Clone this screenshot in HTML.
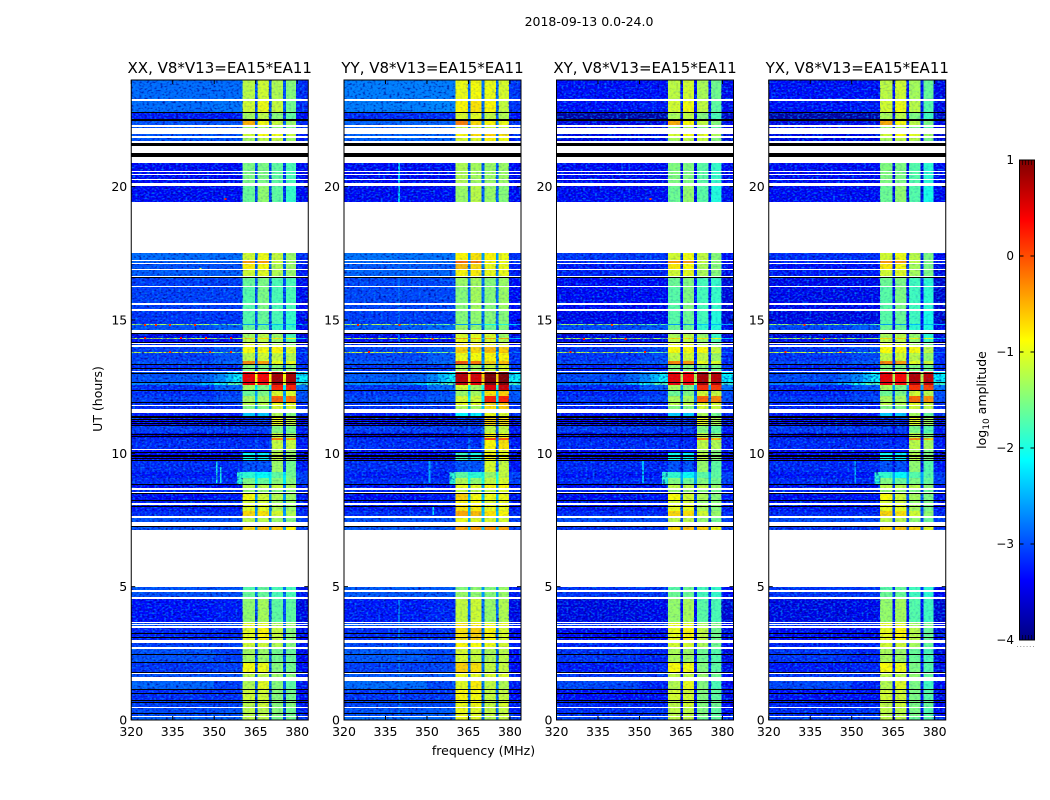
<!DOCTYPE html>
<html>
<head>
<meta charset="utf-8">
<title>2018-09-13 0.0-24.0 spectrogram</title>
<style>
html,body{margin:0;padding:0;background:#fff;width:1050px;height:800px;overflow:hidden}
svg{display:block}
text{font-family:"DejaVu Sans","Liberation Sans",sans-serif;fill:#000}
</style>
</head>
<body>
<svg id="figure" xmlns="http://www.w3.org/2000/svg" width="1050" height="800" viewBox="0 0 1050 800">
<defs>
<filter id="grain-dark" x="0" y="0" width="100%" height="100%" color-interpolation-filters="sRGB">
<feTurbulence type="fractalNoise" baseFrequency="0.38 0.5" numOctaves="1" seed="4"/>
<feColorMatrix type="matrix" values="0 0 0 0 0  0 0 0 0 0  0 0 0 0 0.55  2.6 0 0 0 -1.25"/>
</filter>
<filter id="grain-bright" x="0" y="0" width="100%" height="100%" color-interpolation-filters="sRGB">
<feTurbulence type="fractalNoise" baseFrequency="0.42 0.55" numOctaves="1" seed="11"/>
<feColorMatrix type="matrix" values="0 0 0 0 0  0 0 0 0 0.55  0 0 0 0 1  2.6 0 0 0 -1.22"/>
</filter>
<linearGradient id="jet-gradient" x1="0" y1="1" x2="0" y2="0"></linearGradient>
</defs>
<text x="589" y="26" font-size="12.5" text-anchor="middle">2018-09-13 0.0-24.0</text>
<text x="483.5" y="755" font-size="12.5" text-anchor="middle">frequency (MHz)</text>
<text transform="translate(102,399) rotate(-90)" font-size="12.5" text-anchor="middle">UT (hours)</text>
<text transform="translate(986,400) rotate(-90)" font-size="12.5" text-anchor="middle">log<tspan font-size="9" dy="3">10</tspan><tspan dy="-3"> amplitude</tspan></text>
<g id="panels"></g>
<g id="colorbar"></g>
</svg>
<script>
// ---- chart data ----
const panelTitles = ["XX, V8*V13=EA15*EA11", "YY, V8*V13=EA15*EA11", "XY, V8*V13=EA15*EA11", "YX, V8*V13=EA15*EA11"];
const xTickLabels = [320, 335, 350, 365, 380];
const yTickLabels = [0, 5, 10, 15, 20];
const colorbarTicks = [-4, -3, -2, -1, 0, 1];
// column edges in MHz: background, near-band, ch1, notch, ch2, notch, ch3, notch, ch4, tail
const freqEdges = [320, 350, 360.3, 364.8, 365.7, 369.8, 370.8, 374.9, 375.9, 379.6, 384];
// time bands (hours, top then bottom)
const bandTimes = [
[24,23.306],[23.231,22.8],[22.8,22.5],[22.5,22.294],[22.256,22.211],[21.975,21.9],[21.836,21.713],
[20.876,20.588],[20.55,20.464],[20.426,20.299],[20.25,20.149],[20.025,19.436],
[17.513,17.25],[17.201,17.149],[17.111,16.901],[16.864,16.661],[16.601,16.275],[16.238,15.638],[15.563,15.413],[15.349,14.85],
[14.85,14.813],[14.813,14.625],[14.501,14.336],[14.336,14.299],[14.299,14.149],[14.111,14.051],[14.0,13.811],[13.811,13.774],
[13.774,13.4625],[13.4625,13.301],[13.301,13.099],
[13.05,12.69],[12.69,12.5625],[12.5625,12.34],[12.34,12.15],[12.15,11.89],[11.89,11.81],[11.775,11.65],
[11.524,11.4],[11.4,11.04],[11.04,10.76],[10.76,10.58],[10.58,10.5],[10.5,10.16],[10.125,10.01],[10.01,9.75],[9.75,9.3],
[9.3,9.075],[9.075,8.794],[8.794,8.7],[8.625,8.55],[8.51,8.25],[8.25,8.119],[8.081,7.838],[7.838,7.65],[7.564,7.414],[7.256,7.125],
[4.976,4.875],[4.8,4.624],[4.549,3.675],[3.638,3.6],[3.563,3.525],[3.461,3.0],[2.899,2.726],[2.674,2.175],[2.175,1.774],
[1.736,1.613],[1.463,1.163],[1.163,0.75],[0.75,0.499],[0.461,0.15],[0.101,0]
];
// log10 amplitude per band: background, near-band, notch, ch1, ch2, ch3, ch4, tail
const bandLevels = [
[-2.85,-2.85,-3.0,-1.3,-1.2,-1.3,-1.5,-3.2],[-2.85,-2.8,-3.0,-1.2,-1.05,-1.2,-1.6,-3.2],[-3.3,-3.3,-3.1,-1.4,-1.3,-1.5,-1.7,-3.4],[-3.0,-3.0,-2.9,-0.6,-1.0,-1.2,-1.4,-3.2],[-3.0,-3.0,-3.0,-1.5,-1.4,-1.5,-1.6,-3.2],[-3.0,-3.0,-3.0,-1.2,-1.0,-1.0,-1.2,-3.3],[-3.0,-3.0,-3.0,-1.4,-1.3,-1.2,-1.4,-3.3],
[-3.4,-3.4,-3.1,-1.6,-1.6,-1.7,-1.8,-3.4],[-3.4,-3.4,-3.1,-1.6,-1.6,-1.7,-1.8,-3.4],[-3.4,-3.4,-3.1,-1.6,-1.6,-1.7,-1.8,-3.4],[-3.4,-3.4,-3.1,-1.6,-1.6,-1.7,-1.8,-3.4],[-3.4,-3.4,-3.1,-1.7,-1.5,-1.7,-1.9,-3.4],
[-2.85,-2.85,-2.8,-1.2,-1.05,-1.2,-1.4,-3.2],[-2.9,-2.9,-2.9,-0.5,-0.5,-1.2,-1.4,-3.2],[-3.0,-3.0,-2.9,-0.9,-1.0,-1.3,-1.4,-3.3],[-2.95,-2.95,-2.9,-1.2,-1.1,-1.3,-1.4,-3.3],[-3.1,-3.1,-3.0,-1.7,-1.6,-1.8,-1.8,-3.4],[-3.1,-3.1,-3.0,-1.8,-1.6,-1.8,-1.8,-3.4],[-3.1,-3.1,-3.0,-1.8,-1.6,-1.8,-1.8,-3.4],[-3.15,-3.15,-3.0,-1.8,-1.7,-1.8,-1.9,-3.4],
[-1.3,-1.6,-2.7,-2.6,-2.6,-2.4,-2.4,-2.4],[-3.0,-2.9,-3.0,-1.7,-1.7,-1.9,-1.9,-3.4],[-3.5,-3.5,-3.1,-1.4,-1.3,-1.4,-1.8,-3.5],[-1.2,-1.3,-2.5,-0.8,-0.8,-0.8,-0.9,-2.4],[-3.4,-3.4,-3.0,-1.3,-1.3,-1.4,-1.7,-3.4],[-3.2,-3.2,-2.9,-1.1,-1.1,-1.3,-1.5,-3.4],[-3.1,-3.0,-2.9,-1.0,-1.0,-0.9,-1.1,-3.2],[-1.1,-1.5,-2.4,-1.0,-1.0,-0.9,-1.0,-2.8],
[-3.1,-3.0,-2.9,-1.3,-1.2,-1.2,-1.3,-3.2],[-3.0,-2.9,-2.8,-0.4,-0.5,-1.0,-1.0,-3.2],[-3.2,-3.2,-2.9,-1.6,-1.6,-1.5,-1.5,-3.2],
[-3.0,-3.0,-0.9,0.35,0.25,0.75,0.75,-2.1],[-2.7,-2.7,-1.0,0.3,0.2,0.75,0.75,-1.8],[-3.2,-2.9,-2.2,-1.4,-1.6,0.15,0.15,-2.8],[-3.2,-3.1,-2.6,-1.7,-1.6,-1.1,-1.1,-3.0],[-3.1,-3.0,-2.4,-1.4,-1.4,-0.15,-0.25,-3.0],[-3.2,-3.2,-2.6,-1.3,-1.3,-1.0,-1.0,-3.2],[-3.2,-3.2,-2.6,-1.6,-1.6,-1.1,-1.1,-3.2],
[-3.3,-3.3,-3.1,-2.5,-2.5,-1.3,-1.5,-3.2],[-3.4,-3.4,-3.3,-3.2,-3.2,-1.0,-1.2,-3.4],[-3.1,-3.1,-3.1,-3.1,-3.1,-1.5,-1.6,-3.3],[-3.5,-3.5,-3.3,-3.3,-3.3,-1.2,-1.4,-3.5],[-3.2,-3.2,-3.1,-3.2,-3.2,-0.3,-0.5,-3.3],[-3.2,-3.2,-3.0,-3.2,-3.2,-1.2,-1.2,-3.3],[-3.4,-3.4,-3.2,-3.3,-3.3,-1.3,-1.4,-3.4],[-3.4,-3.4,-3.0,-2.2,-2.3,-1.2,-1.4,-3.4],[-3.2,-3.2,-3.1,-3.0,-3.0,-1.4,-1.6,-3.3],
[-3.3,-3.3,-2.2,-2.0,-2.2,-1.7,-1.6,-3.1],[-3.2,-3.2,-2.2,-1.6,-1.7,-1.5,-1.5,-3.1],[-3.4,-3.4,-2.8,-1.3,-1.3,-1.2,-1.3,-3.3],[-3.2,-3.2,-2.8,-1.5,-1.5,-1.5,-1.5,-3.2],[-3.4,-3.3,-2.6,-1.0,-1.2,-1.3,-1.4,-3.3],[-3.3,-3.2,-2.7,-1.2,-1.2,-1.4,-1.4,-3.3],[-3.3,-3.3,-2.7,-1.1,-1.1,-1.3,-1.4,-3.3],[-3.2,-3.2,-2.6,-0.8,-0.85,-1.1,-1.3,-3.2],[-3.0,-3.0,-2.7,-1.3,-1.3,-1.4,-1.5,-3.1],[-3.0,-3.0,-2.6,-0.8,-0.7,-0.7,-0.9,-3.1],
[-3.0,-3.0,-2.8,-1.8,-1.7,-1.8,-1.8,-3.3],[-3.0,-3.0,-2.8,-1.7,-1.7,-1.8,-1.8,-3.3],[-3.35,-3.3,-3.0,-1.5,-1.4,-1.7,-1.7,-3.5],[-3.0,-3.0,-2.9,-1.1,-1.1,-1.3,-1.4,-3.3],[-3.0,-3.0,-2.9,-1.1,-1.1,-1.3,-1.4,-3.3],[-3.25,-3.25,-3.0,-1.1,-0.95,-1.2,-1.5,-3.4],[-3.1,-3.1,-2.9,-1.2,-1.2,-1.3,-1.5,-3.3],[-3.0,-3.1,-3.0,-1.4,-1.45,-1.6,-1.65,-3.4],[-3.15,-3.1,-3.0,-1.0,-1.05,-1.5,-1.6,-3.4],
[-3.0,-3.0,-2.9,-1.3,-1.3,-1.4,-1.5,-3.3],[-2.9,-3.1,-2.9,-1.35,-1.1,-1.5,-1.7,-3.3],[-3.2,-3.2,-3.0,-1.2,-1.2,-1.5,-1.6,-3.4],[-3.1,-3.1,-3.0,-1.3,-1.2,-1.5,-1.5,-3.3],[-3.05,-3.0,-3.0,-1.3,-1.3,-1.5,-1.6,-3.3],[-2.9,-2.9,-3.0,-1.3,-1.3,-1.6,-1.6,-3.1]
];
// flagged (black) integrations, hours top then bottom
const flaggedTimes = [
[22.8,22.744],[22.519,22.481],[21.638,21.525],[21.251,21.124],[16.601,16.564],[14.501,14.464],[14.186,14.149],[13.35,13.301],[13.211,13.151],[13.013,12.975],[12.675,12.638],[12.375,12.338],[11.925,11.888],
[11.411,11.374],[11.351,11.314],[11.276,11.239],[11.213,11.175],[11.126,11.089],[11.063,11.025],[10.725,10.688],[10.639,10.601],[10.05,10.013],[9.949,9.911],[9.9,9.863],[9.825,9.788],[9.75,9.713],
[8.85,8.794],[8.513,8.475],[8.25,8.213],[8.025,7.988],[7.286,7.256],[3.263,3.225],[3.113,3.075],[2.475,2.438],[2.175,2.138],[1.811,1.774],[1.163,1.125],[1.024,0.986],[0.75,0.713],[0.664,0.626],[0.251,0.214]
];
// per-polarisation adjustments
const zoneEdges = [0, 7.2, 11.5, 15, 18, 21, 24];
const bgOffsetXX = [0, 0, 0, 0, 0, 0];
const bgOffsetYY = [0.05, 0, 0.05, 0.05, 0, 0.1];
const bgOffsetXY = [-0.15, -0.02, -0.05, -0.3, 0, -0.5];
const bgOffsetYX = [-0.15, -0.02, -0.05, -0.35, 0, -0.5];
const chanOffsetXX = [0.1, 0.1, 0.05, 0.05];
const chanOffsetYY = [0.35, 0.3, 0.35, 0.45];
const chanOffsetXY = [0.12, 0.12, 0.03, -0.05];
const chanOffsetYX = [0.12, 0.1, 0, -0.1];
const notchOffsets = [0, 0.2, -0.35, -0.35];
// narrow interference and ramps: panel (-1 = all), freq start, freq end, hour top, hour bottom, level
const spikes = [
[1,339.6,340.3,20.88,19.43,-2.3],[1,339.6,340.3,17.5,14.0,-2.9],[1,339.6,340.3,4.5,0.2,-2.8],
[0,350.6,351.2,9.75,8.9,-2.0],[0,352.0,352.6,9.5,8.9,-2.0],[1,350.6,351.2,9.75,8.9,-2.5],[1,352.0,352.6,8.0,7.7,-2.1],
[2,351.0,351.6,9.7,8.9,-2.4],[3,351.0,351.6,9.7,8.9,-2.4],
[-1,345,350,13.05,12.69,-2.9],[-1,350,354,13.05,12.69,-2.7],[-1,354,357,13.05,12.69,-2.4],[-1,357,360.3,13.05,12.69,-2.1],
[-1,345,350,12.69,12.5625,-2.4],[-1,350,355,12.69,12.5625,-2.0],[-1,355,360.3,12.69,12.5625,-1.7],
[-1,358.2,360.3,9.3,8.794,-1.9]
];
// single hot pixels: panel, freq, hour, level
const hotPoints = [
[0,354,19.55,0.3],[0,325,14.83,0.2],[0,329,14.83,0.2],[0,334,14.83,0.2],[0,343,14.83,0.2],
[0,325,14.32,0.3],[0,338,14.32,0.3],[0,347,14.32,0.3],[0,356,14.32,0.3],[0,334,13.79,0.2],[0,348.5,13.79,0.2],[0,356,13.79,0.2],
[0,345,16.9,-1.0],[1,325,14.83,0.3],[1,340,14.83,0.2],[1,329,13.8,0.3],[1,352,14.3,0.1],
[2,354,19.55,0.1],[2,340,14.83,0.1],[2,330,14.3,0.3],[2,345,14.3,0.3],[2,325,13.8,0.4],[2,352,13.8,0.3],
[3,333,14.83,0.2],[3,340,14.3,0.2],[3,326,13.8,0.3],[3,346,13.8,0.2]
];

// ---- layout ----
const NS = "http://www.w3.org/2000/svg";
const panelLefts = [131.25, 344, 556.5, 768.75];
const panelWidth = 177;
const plotTop = 80;
const plotBottom = 720;
const bgOffsets = [bgOffsetXX, bgOffsetYY, bgOffsetXY, bgOffsetYX];
const chanOffsets = [chanOffsetXX, chanOffsetYY, chanOffsetXY, chanOffsetYX];

function xScale(left, f) { return left + (f - 320) * panelWidth / 64; }
function yScale(h) { return plotBottom - h * (plotBottom - plotTop) / 24; }
function yPixel(h) { return Math.round(yScale(h)); }
function jet(v) {
  const t = Math.max(0, Math.min(1, (v + 4) / 5));
  const c = function (k) { return Math.round(255 * Math.max(0, Math.min(1, 1.5 - Math.abs(4 * t - k)))); };
  return "rgb(" + c(3) + "," + c(2) + "," + c(1) + ")";
}
function zoneIndex(h) {
  let z = 0;
  for (let i = 0; i < zoneEdges.length - 1; i++) { if (h >= zoneEdges[i]) z = i; }
  return z;
}
function make(parent, tag) {
  const el = document.createElementNS(NS, tag);
  parent.appendChild(el);
  return el;
}
function channelLevel(level, offset) { return level > -2.6 ? level + offset : level; }
function cellLevel(levels, col, p, zone) {
  // levels: bg, near, notch, ch1..ch4, tail
  if (col === 0) return levels[0] + bgOffsets[p][zone];
  if (col === 1) return levels[1] + bgOffsets[p][zone];
  if (col === 2) return channelLevel(levels[3], chanOffsets[p][0]);
  if (col === 3 || col === 5 || col === 7) return levels[2] + notchOffsets[p];
  if (col === 4) return channelLevel(levels[4], chanOffsets[p][1]);
  if (col === 6) return channelLevel(levels[5], chanOffsets[p][2]);
  if (col === 8) return channelLevel(levels[6], chanOffsets[p][3]);
  return levels[7] + bgOffsets[p][zone] * 0.5;
}
function addNoise(parent, x, w, y, h, opacity) {
  ["grain-dark", "grain-bright"].forEach(function (filterId) {
    const n = make(parent, "rect");
    
    
    n.setAttribute("x", x);
    n.setAttribute("width", w);
    n.setAttribute("y", y);
    n.setAttribute("height", h);
    n.setAttribute("opacity", opacity);
    n.setAttribute("filter", "url(#" + filterId + ")");
  });
}

const panelsRoot = document.getElementById("panels");
panelTitles.forEach(function (title, p) {
  const left = panelLefts[p];
  const g = make(panelsRoot, "g");
  
  

  const quietCells = [];
  bandTimes.forEach(function (t, r) {
    const zone = zoneIndex((t[0] + t[1]) / 2);
    for (let c = 0; c < freqEdges.length - 1; c++) {
      const x = xScale(left, freqEdges[c]);
      const w = xScale(left, freqEdges[c + 1]) - x;
      const y = yPixel(t[0]);
      const h = Math.max(1, yPixel(t[1]) - y);
      const level = cellLevel(bandLevels[r], c, p, zone);
      const cell = make(g, "rect");
      
      
      cell.setAttribute("x", x);
      cell.setAttribute("width", w);
      cell.setAttribute("y", y);
      cell.setAttribute("height", h);
      cell.setAttribute("fill", jet(level));
      cell.setAttribute("shape-rendering", "crispEdges");
      if (c >= 2 && c <= 8 && level < -2.6 && h >= 4) quietCells.push([x, w, y, h]);
    }
  });

  spikes.filter(function (s) { return s[0] === p || s[0] === -1; }).forEach(function (s) {
    bandTimes.forEach(function (t) {
      const top = Math.min(t[0], s[3]);
      const bottom = Math.max(t[1], s[4]);
      if (top <= bottom) return;
      const sp = make(g, "rect");
      
      
      sp.setAttribute("x", xScale(left, s[1]));
      sp.setAttribute("width", xScale(left, s[2]) - xScale(left, s[1]));
      sp.setAttribute("y", yPixel(top));
      sp.setAttribute("height", Math.max(1, yPixel(bottom) - yPixel(top)));
      sp.setAttribute("fill", jet(s[5]));
      sp.setAttribute("shape-rendering", "crispEdges");
    });
  });

  // receiver noise texture laid over the cells
  [[320, 360.3, 1], [360.3, 379.6, 0.2], [379.6, 384, 1]].forEach(function (region) {
    addNoise(g, xScale(left, region[0]), xScale(left, region[1]) - xScale(left, region[0]), plotTop, plotBottom - plotTop, region[2]);
  });
  quietCells.forEach(function (q) { addNoise(g, q[0], q[1], q[2], q[3], 0.9); });

  hotPoints.filter(function (s) { return s[0] === p; }).forEach(function (s) {
    const hp = make(g, "rect");
    
    
    hp.setAttribute("x", xScale(left, s[1]) - 1);
    hp.setAttribute("width", 2);
    hp.setAttribute("y", yPixel(s[2]) - 1);
    hp.setAttribute("height", 2);
    hp.setAttribute("fill", jet(s[3]));
    hp.setAttribute("shape-rendering", "crispEdges");
  });

  // times with no data stay blank
  bandTimes.forEach(function (t, r) {
    const nextTop = r + 1 < bandTimes.length ? bandTimes[r + 1][0] : t[1];
    if (t[1] - nextTop <= 0) return;
    const gap = make(g, "rect");
    
    
    gap.setAttribute("x", left);
    gap.setAttribute("width", panelWidth);
    gap.setAttribute("y", yPixel(t[1]));
    gap.setAttribute("height", Math.max(1, yPixel(nextTop) - yPixel(t[1])));
    gap.setAttribute("fill", "#fff");
    gap.setAttribute("shape-rendering", "crispEdges");
  });

  flaggedTimes.forEach(function (t) {
    const fl = make(g, "rect");
    
    
    fl.setAttribute("x", left);
    fl.setAttribute("width", panelWidth);
    fl.setAttribute("y", yPixel(t[0]));
    fl.setAttribute("height", Math.max(1, yPixel(t[1]) - yPixel(t[0])));
    fl.setAttribute("fill", "#000");
    fl.setAttribute("shape-rendering", "crispEdges");
  });

  const frame = make(g, "rect");
  
  
  frame.setAttribute("x", left);
  frame.setAttribute("y", plotTop);
  frame.setAttribute("width", panelWidth);
  frame.setAttribute("height", plotBottom - plotTop);
  frame.setAttribute("fill", "none");
  frame.setAttribute("stroke", "#000");
  frame.setAttribute("stroke-width", "1");

  const titleEl = make(g, "text");
  
  
  titleEl.setAttribute("x", left + panelWidth / 2);
  titleEl.setAttribute("y", 73);
  titleEl.setAttribute("font-size", "15");
  titleEl.setAttribute("text-anchor", "middle");
  titleEl.textContent = title;

  xTickLabels.forEach(function (f) {
    const x = xScale(left, f);
    [[plotBottom, plotBottom - 4], [plotTop, plotTop + 4]].forEach(function (e) {
      const tick = make(g, "line");
      
      
      tick.setAttribute("x1", x);
      tick.setAttribute("x2", x);
      tick.setAttribute("y1", e[0]);
      tick.setAttribute("y2", e[1]);
      tick.setAttribute("stroke", "#000");
    });
    const lab = make(g, "text");
    
    
    lab.setAttribute("x", x);
    lab.setAttribute("y", 736);
    lab.setAttribute("font-size", "12.5");
    lab.setAttribute("text-anchor", "middle");
    lab.textContent = f;
  });

  yTickLabels.forEach(function (h) {
    const y = yScale(h);
    [[left, left + 4], [left + panelWidth, left + panelWidth - 4]].forEach(function (e) {
      const tick = make(g, "line");
      
      
      tick.setAttribute("x1", e[0]);
      tick.setAttribute("x2", e[1]);
      tick.setAttribute("y1", y);
      tick.setAttribute("y2", y);
      tick.setAttribute("stroke", "#000");
    });
    const lab = make(g, "text");
    
    
    lab.setAttribute("x", left - 4);
    lab.setAttribute("y", y + 4.5);
    lab.setAttribute("font-size", "12.5");
    lab.setAttribute("text-anchor", "end");
    lab.textContent = h;
  });
});

// ---- colorbar ----
const cbLeft = 1019.5;
const cbWidth = 15;
const cbTop = 160;
const cbBottom = 640;
function cbScale(v) { return cbBottom - (v + 4) * (cbBottom - cbTop) / 5; }

const grad = document.getElementById("jet-gradient");
for (let i = 0; i <= 40; i++) {
  const stop = make(grad, "stop");
  stop.setAttribute("offset", (i / 40));
  stop.setAttribute("stop-color", jet(-4 + 5 * i / 40));
}
const cbRoot = document.getElementById("colorbar");
const cbRect = make(cbRoot, "rect");


cbRect.setAttribute("x", cbLeft);
cbRect.setAttribute("y", cbTop);
cbRect.setAttribute("width", cbWidth);
cbRect.setAttribute("height", cbBottom - cbTop);
cbRect.setAttribute("fill", "url(#jet-gradient)");
cbRect.setAttribute("stroke", "#000");

[cbTop, cbBottom - 5].forEach(function (y0) {
  for (let i = 1; i <= 4; i++) {
    const hatch = make(cbRoot, "line");
    
    
    hatch.setAttribute("x1", cbLeft + i * 3);
    hatch.setAttribute("x2", cbLeft + i * 3);
    hatch.setAttribute("y1", y0);
    hatch.setAttribute("y2", y0 + 5);
    hatch.setAttribute("stroke", "#000");
    hatch.setAttribute("stroke-opacity", "0.6");
  }
});

colorbarTicks.forEach(function (v) {
  const y = cbScale(v);
  [[cbLeft, cbLeft + 4], [cbLeft + cbWidth, cbLeft + cbWidth - 4]].forEach(function (e) {
    const tick = make(cbRoot, "line");
    
    
    tick.setAttribute("x1", e[0]);
    tick.setAttribute("x2", e[1]);
    tick.setAttribute("y1", y);
    tick.setAttribute("y2", y);
    tick.setAttribute("stroke", "#000");
  });
  const lab = make(cbRoot, "text");
  
  
  lab.setAttribute("x", 1014);
  lab.setAttribute("y", y + 4);
  lab.setAttribute("font-size", "12");
  lab.setAttribute("text-anchor", "end");
  lab.textContent = v < 0 ? "\u2212" + Math.abs(v) : String(v);
});

const dots = make(cbRoot, "line");


dots.setAttribute("x1", 1017);
dots.setAttribute("x2", 1036);
dots.setAttribute("y1", 646.5);
dots.setAttribute("y2", 646.5);
dots.setAttribute("stroke", "#999");
dots.setAttribute("stroke-dasharray", "1 2.2");
</script>
</body>
</html>
